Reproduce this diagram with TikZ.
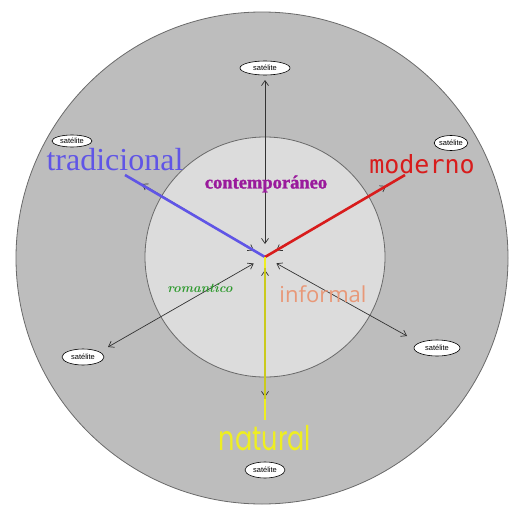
\documentclass[tikz,border=0pt]{standalone}
\usepackage{fontspec}
\usetikzlibrary{arrows.meta,shapes.geometric}
\newfontfamily\tradfont{Liberation Serif}
\newfontfamily\contfont[BoldFeatures={FakeBold=1.5}]{Liberation Serif}
\newfontfamily\modfont{DejaVu Sans Mono}
\newfontfamily\natfont[FakeStretch=0.75]{Poppins}
\newfontfamily\infont{Open Sans}
\newfontfamily\satfont{Liberation Sans}
\definecolor{outerfill}{HTML}{BDBDBD}
\definecolor{innerfill}{HTML}{DCDCDC}
\definecolor{ringline}{HTML}{6A6A6A}
\definecolor{tradblue}{HTML}{6055E6}
\definecolor{modred}{HTML}{D81C1C}
\definecolor{natyellow}{HTML}{EEEE22}
\definecolor{contpurple}{HTML}{9A1A9C}
\definecolor{romgreen}{HTML}{2F9A2F}
\definecolor{infsalmon}{HTML}{E89878}
\definecolor{arrgray}{HTML}{333333}
\tikzset{
  sat/.style={ellipse, draw=black, fill=white, line width=0.6pt, inner sep=0pt,
    font=\satfont\fontsize{7.5}{8}\selectfont},
  arr/.style={draw=arrgray, line width=0.7pt, shorten <=13pt,
    {Straight Barb[length=5pt,width=7pt]}-{Straight Barb[length=5pt,width=7pt]}},
  colline/.style={line width=2.6pt, line cap=butt},
}
\begin{document}
\begin{tikzpicture}[x=1pt,y=-1pt]
\useasboundingbox (0,0) rectangle (509,506);
% rings
\fill[white] (0,0) rectangle (509,506);
\draw[ringline, fill=outerfill, line width=0.8pt] (262,258) circle[radius=246];
\draw[ringline, fill=innerfill, line width=0.8pt] (265,257) circle[radius=120];
% points
\coordinate (c) at (265,257);
\coordinate (eT) at (265,80);
\coordinate (eUL) at (142,184);
\coordinate (eUR) at (386,186);
\coordinate (eLL) at (108,347);
\coordinate (eLR) at (407,336);
\coordinate (eB) at (265,397);
\coordinate (tEnd) at (125,175);
\coordinate (mEnd) at (405,175);
\coordinate (yA) at (265,268);
\coordinate (yB) at (265,399);
\coordinate (yC) at (265,420);
% black double arrows
\draw[arr] (c) -- (eT);
\draw[arr] (c) -- (eUL);
\draw[arr] (c) -- (eUR);
\draw[arr] (c) -- (eLL);
\draw[arr] (c) -- (eLR);
\draw[arr] (c) -- (eB);
% coloured lines
\draw[colline, tradblue] (c) -- (tEnd);
\draw[colline, modred] (c) -- (mEnd);
\draw[line width=1.4pt, natyellow!85!black] (yA) -- (yB);
\draw[colline, natyellow] (c) -- (yA);
\draw[colline, natyellow] (yB) -- (yC);
% satellites
\node[sat, minimum width=50pt, minimum height=14pt] (sT) at (265,68) {satélite};
\node[sat, minimum width=40pt, minimum height=12pt] (sUL) at (72,141) {satélite};
\node[sat, minimum width=32pt, minimum height=15pt] (sUR) at (451,143) {satélite};
\node[sat, minimum width=42pt, minimum height=16pt] (sLL) at (83,357) {satélite};
\node[sat, minimum width=46pt, minimum height=16pt] (sLR) at (437,348) {satélite};
\node[sat, minimum width=40pt, minimum height=16pt] (sB) at (265,470) {satélite};
% labels
\node[text=tradblue, font=\tradfont\fontsize{32}{32}\selectfont, inner sep=0pt] (trad) at (115,160) {tradicional};
\node[text=modred, font=\modfont\fontsize{25}{25}\selectfont, inner sep=0pt] (mod) at (422,164) {moderno};
\node[text=contpurple, font=\contfont\bfseries\fontsize{18.5}{19}\selectfont, inner sep=0pt] (cont) at (266,184) {contemporáneo};
\node[text=romgreen, font=\bfseries\itshape\fontsize{13}{13}\selectfont, inner sep=0pt] (rom) at (200,288) {romantico};
\node[text=infsalmon, font=\infont\fontsize{22}{22}\selectfont, inner sep=0pt] (inf) at (323,294) {informal};
\node[text=natyellow, font=\natfont\fontsize{34}{34}\selectfont, inner sep=0pt] (nat) at (265,438) {natural};
\end{tikzpicture}
\end{document}
